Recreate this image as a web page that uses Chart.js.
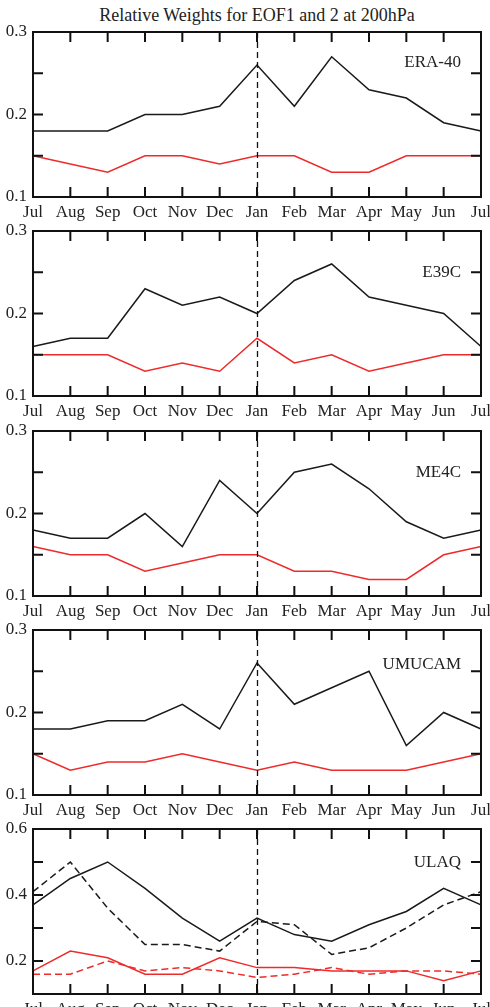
<!DOCTYPE html>
<html>
<head>
<meta charset="utf-8">
<script src="https://cdn.jsdelivr.net/npm/chart.js@4.4.1/dist/chart.umd.min.js"></script>
<style>
  html, body { margin: 0; padding: 0; background: #fff; overflow: hidden; }
  body { width: 490px; height: 1007px; position: relative; }
  #title {
    position: absolute; top: 5px; left: 33px; width: 448px;
    text-align: center; font: 18px "Liberation Serif", "Times New Roman", serif; color: #222;
  }
  canvas { position: absolute; left: 0; }
</style>
</head>
<body>
<div id="title">Relative Weights for EOF1 and 2 at 200hPa</div>

<script>
// months along the x axis (Jul .. Jul)
const months = ['Jul', 'Aug', 'Sep', 'Oct', 'Nov', 'Dec', 'Jan', 'Feb', 'Mar', 'Apr', 'May', 'Jun', 'Jul'];
const dividerMonth = 6; // dashed line at Jan

// ERA-40
const era40Eof1 = [0.18, 0.18, 0.18, 0.20, 0.20, 0.21, 0.26, 0.21, 0.27, 0.23, 0.22, 0.19, 0.18];
const era40Eof2 = [0.15, 0.14, 0.13, 0.15, 0.15, 0.14, 0.15, 0.15, 0.13, 0.13, 0.15, 0.15, 0.15];
// E39C
const e39cEof1 = [0.16, 0.17, 0.17, 0.23, 0.21, 0.22, 0.20, 0.24, 0.26, 0.22, 0.21, 0.20, 0.16];
const e39cEof2 = [0.15, 0.15, 0.15, 0.13, 0.14, 0.13, 0.17, 0.14, 0.15, 0.13, 0.14, 0.15, 0.15];
// ME4C
const me4cEof1 = [0.18, 0.17, 0.17, 0.20, 0.16, 0.24, 0.20, 0.25, 0.26, 0.23, 0.19, 0.17, 0.18];
const me4cEof2 = [0.16, 0.15, 0.15, 0.13, 0.14, 0.15, 0.15, 0.13, 0.13, 0.12, 0.12, 0.15, 0.16];
// UMUCAM
const umucamEof1 = [0.18, 0.18, 0.19, 0.19, 0.21, 0.18, 0.26, 0.21, 0.23, 0.25, 0.16, 0.20, 0.18];
const umucamEof2 = [0.15, 0.13, 0.14, 0.14, 0.15, 0.14, 0.13, 0.14, 0.13, 0.13, 0.13, 0.14, 0.15];
// ULAQ (solid and dashed runs)
const ulaqEof1 = [0.37, 0.45, 0.50, 0.42, 0.33, 0.26, 0.33, 0.28, 0.26, 0.31, 0.35, 0.42, 0.37];
const ulaqEof1b = [0.41, 0.50, 0.36, 0.25, 0.25, 0.23, 0.32, 0.31, 0.22, 0.24, 0.30, 0.37, 0.41];
const ulaqEof2 = [0.17, 0.23, 0.21, 0.16, 0.16, 0.21, 0.18, 0.18, 0.17, 0.17, 0.17, 0.14, 0.17];
const ulaqEof2b = [0.16, 0.16, 0.20, 0.17, 0.18, 0.17, 0.15, 0.16, 0.18, 0.16, 0.17, 0.17, 0.16];

// y axis ranges and labelled ticks
const smallRange = { min: 0.1, max: 0.3, step: 0.05, labels: [0.1, 0.2, 0.3] };
const ulaqRange = { min: 0.1, max: 0.6, step: 0.1, labels: [0.2, 0.4, 0.6] };

const BLACK = '#1a1a1a';
const RED = '#ee2b2b';
const FONT = "'Liberation Serif', 'Times New Roman', serif";

const panels = [
  { name: 'ERA-40', top: 32, dy: 31, range: smallRange, series: [[era40Eof1, BLACK], [era40Eof2, RED]] },
  { name: 'E39C', top: 231, dy: 42, range: smallRange, series: [[e39cEof1, BLACK], [e39cEof2, RED]] },
  { name: 'ME4C', top: 431, dy: 42, range: smallRange, series: [[me4cEof1, BLACK], [me4cEof2, RED]] },
  { name: 'UMUCAM', top: 630, dy: 35, range: smallRange, series: [[umucamEof1, BLACK], [umucamEof2, RED]] },
  { name: 'ULAQ', top: 829, dy: 34, range: ulaqRange,
    series: [[ulaqEof1, BLACK], [ulaqEof1b, BLACK, true], [ulaqEof2, RED], [ulaqEof2b, RED, true]] }
];

const PAD_TOP = 14;
const AREA_H = 165;
const XAXIS_H = 31; // tall enough that month labels are not clipped

// frame, inward ticks, Jan divider and panel name
const framePlugin = {
  id: 'frame',
  afterDatasetsDraw(chart, args, opts) {
    const { ctx, chartArea: a, scales: { x, y } } = chart;
    ctx.save();
    ctx.strokeStyle = '#111';

    ctx.lineWidth = 1.3;
    ctx.setLineDash([6, 4]);
    const jx = Math.round(x.getPixelForValue(dividerMonth)) + 0.5;
    ctx.beginPath();
    ctx.moveTo(jx, a.top);
    ctx.lineTo(jx, a.bottom);
    ctx.stroke();
    ctx.setLineDash([]);

    ctx.lineWidth = 2;
    ctx.beginPath();
    x.ticks.forEach((t, i) => {
      const px = x.getPixelForTick(i);
      ctx.moveTo(px, a.bottom); ctx.lineTo(px, a.bottom - 10);
      ctx.moveTo(px, a.top); ctx.lineTo(px, a.top + 10);
    });
    y.ticks.forEach((t, i) => {
      const py = y.getPixelForTick(i);
      ctx.moveTo(a.left, py); ctx.lineTo(a.left + 10, py);
      ctx.moveTo(a.right, py); ctx.lineTo(a.right - 10, py);
    });
    ctx.stroke();
    ctx.strokeRect(a.left, a.top, a.width, a.height);

    ctx.fillStyle = '#222';
    ctx.font = '17px ' + FONT;
    ctx.textAlign = 'right';
    ctx.textBaseline = 'middle';
    ctx.fillText(opts.text, a.right - 20, a.top + opts.dy);
    ctx.restore();
  }
};

panels.forEach((p) => {
  const canvas = document.createElement('canvas');
  canvas.width = 490;
  canvas.height = PAD_TOP + AREA_H + XAXIS_H;
  canvas.style.top = (p.top - PAD_TOP) + 'px';
  document.body.appendChild(canvas);

  const r = p.range;
  new Chart(canvas.getContext('2d'), {
    type: 'line',
    data: {
      labels: months,
      datasets: p.series.map(([values, color, dashed]) => ({
        data: values,
        borderColor: color,
        borderWidth: 1.5,
        borderDash: dashed ? [7, 4] : [],
        pointRadius: 0,
        tension: 0,
        fill: false
      }))
    },
    options: {
      responsive: false,
      animation: false,
      events: [],
      layout: { padding: { top: PAD_TOP, right: 9, left: 0, bottom: 0 } },
      plugins: {
        legend: { display: false },
        tooltip: { enabled: false },
        frame: { text: p.name, dy: p.dy }
      },
      scales: {
        x: {
          type: 'category',
          offset: false,
          grid: { display: false, drawTicks: false },
          border: { display: false },
          ticks: {
            autoSkip: false, maxRotation: 0, padding: 5,
            color: '#222', font: { family: FONT, size: 17 }
          },
          afterFit(s) { s.height = XAXIS_H; s.paddingLeft = 0; s.paddingRight = 0; }
        },
        y: {
          min: r.min, max: r.max,
          grid: { display: false, drawTicks: false },
          border: { display: false },
          ticks: {
            stepSize: r.step, padding: 6, color: '#222',
            font: { family: FONT, size: 17 },
            callback(v) {
              return r.labels.some(l => Math.abs(l - v) < 1e-6) ? v.toFixed(1) : '';
            }
          },
          afterFit(s) { s.width = 33; s.paddingTop = 0; s.paddingBottom = 0; }
        }
      }
    },
    plugins: [framePlugin]
  });
});
</script>
</body>
</html>
